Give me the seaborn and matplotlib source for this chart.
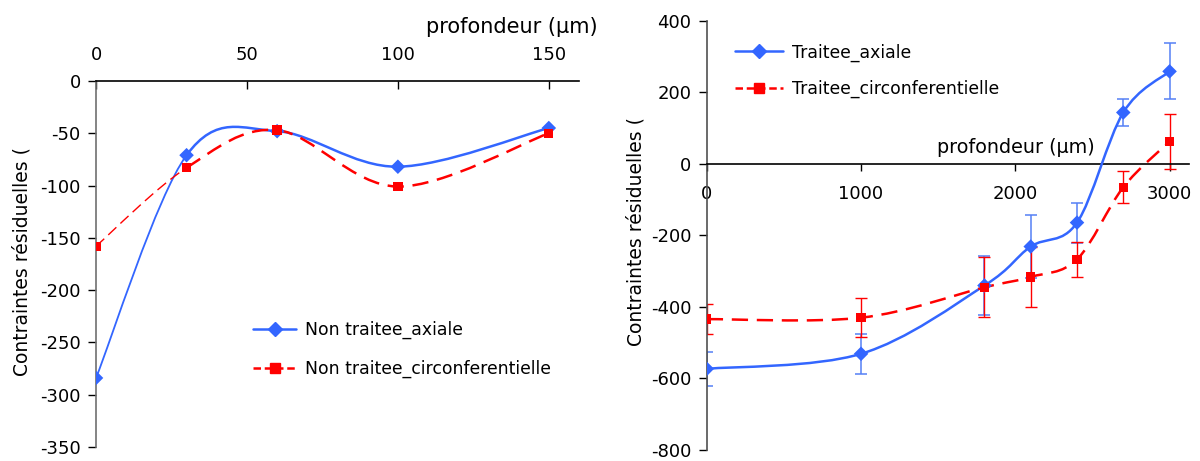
import numpy as np
import matplotlib
matplotlib.use("Agg")
import matplotlib.pyplot as plt
from matplotlib.path import Path
from matplotlib.patches import PathPatch
from matplotlib.lines import Line2D
import seaborn as sns
import pandas as pd

# ---------------- data ----------------
left_depth = [0, 30, 60, 100, 150]
left_axial = [-284, -71, -48, -82, -45]
left_circ = [-158, -83, -47, -101, -50]

right_depth = [0, 1000, 1800, 2100, 2400, 2700, 3000]
right_axial = [-573, -531, -340, -231, -164, 144, 259]
right_axial_err = [47, 56, 83, 87, 56, 39, 78]
right_circ = [-434, -430, -345, -316, -267, -65, 63]
right_circ_err = [42, 54, 84, 84, 48, 45, 76]

left_labels = ["Non traitee_axiale", "Non traitee_circonferentielle"]
right_labels = ["Traitee_axiale", "Traitee_circonferentielle"]
xlabel_text = "profondeur (\u00b5m)"
ylabel_text = "Contraintes r\u00e9siduelles ("

left_xticks = [0, 50, 100, 150]
left_yticks = [0, -50, -100, -150, -200, -250, -300, -350]
right_xticks = [0, 1000, 2000, 3000]
right_yticks = [400, 200, 0, -200, -400, -600, -800]

BLUE = "#3366FF"
BLUE_ERR = "#5580F5"
RED = "#FF0000"

sns.set_theme(style="white")
plt.rcParams["font.family"] = ["DejaVu Sans"]
plt.rcParams["axes.unicode_minus"] = False
plt.rcParams["text.color"] = "black"
plt.rcParams["xtick.color"] = "black"
plt.rcParams["ytick.color"] = "black"
FS = 13
LEG_FS = 12.4


def smooth_segments(x, y):
    """Bezier (Catmull-Rom style) segments through the data points."""
    pts = np.column_stack([x, y]).astype(float)
    n = len(pts)
    segs = []
    for i in range(n - 1):
        p0 = pts[i - 1] if i > 0 else pts[i]
        p1 = pts[i]
        p2 = pts[i + 1]
        p3 = pts[i + 2] if i + 2 < n else pts[i + 1]
        c1 = p1 + (p2 - p0) / 6.0
        c2 = p2 - (p3 - p1) / 6.0
        segs.append((p1, c1, c2, p2))
    return segs


def path_from(segs):
    verts = [segs[0][0]]
    codes = [Path.MOVETO]
    for (_, c1, c2, p2) in segs:
        verts += [c1, c2, p2]
        codes += [Path.CURVE4] * 3
    return Path(verts, codes)


def draw_curve(ax, segs, color, lw, ls):
    patch = PathPatch(path_from(segs), facecolor="none", edgecolor=color,
                      lw=lw, linestyle=ls, capstyle="butt", zorder=3)
    ax.add_patch(patch)


fig = plt.figure(figsize=(12, 4.61), dpi=100)
axL = fig.add_axes([0.08, 0.0304, 0.4025, 0.794])
axR = fig.add_axes([0.589, 0.0239, 0.4017, 0.9306])

DASH = (0, (6.5, 3.5))

# ---------------- left panel ----------------
segA = smooth_segments(left_depth, left_axial)
segC = smooth_segments(left_depth, left_circ)
draw_curve(axL, segA[:1], BLUE, 1.3, "-")
draw_curve(axL, segA[1:], BLUE, 1.8, "-")
draw_curve(axL, segC[:1], RED, 1.0, (0, (8, 4)))
draw_curve(axL, segC[1:], RED, 1.8, DASH)

dfL = pd.DataFrame({"x": left_depth, "a": left_axial, "c": left_circ})
sns.scatterplot(data=dfL, x="x", y="a", marker="D", s=55, color=BLUE,
                edgecolor="none", ax=axL, zorder=4, legend=False)
sns.scatterplot(data=dfL, x="x", y="c", marker="s", s=45, color=RED,
                edgecolor="none", ax=axL, zorder=4, legend=False)

axL.set_xlim(0, 160)
axL.set_ylim(-350, 0)
axL.set_xticks(left_xticks)
axL.set_yticks(left_yticks)
axL.xaxis.tick_top()
axL.tick_params(axis="x", direction="in", length=6, width=1, pad=12,
                labelsize=FS, colors="black", top=True, bottom=False)
axL.tick_params(axis="y", direction="out", length=6, width=1, pad=5,
                labelsize=FS, colors="black", left=True)
for s in ["right", "bottom"]:
    axL.spines[s].set_visible(False)
axL.spines["top"].set_color("black")
axL.spines["top"].set_linewidth(1.2)
axL.spines["left"].set_color("#707070")
axL.spines["left"].set_linewidth(1.2)
axL.set_xlabel("")
axL.set_ylabel("")
axL.text(1.039, 1.1475, xlabel_text, transform=axL.transAxes, ha="right",
         va="center", fontsize=15)

hL = [Line2D([], [], color=BLUE, lw=1.8, marker="D", ms=7),
      Line2D([], [], color=RED, lw=1.8, ls=(0, (3, 1.5)), marker="s", ms=6.5)]
axL.legend(hL, left_labels, loc="center left", bbox_to_anchor=(0.325, 0.266),
           frameon=False, fontsize=LEG_FS, handlelength=2.5, handletextpad=0.5,
           labelspacing=1.2, borderpad=0, borderaxespad=0)

# ---------------- right panel ----------------
axR.errorbar(right_depth, right_axial, yerr=right_axial_err, fmt="none",
             ecolor=BLUE_ERR, elinewidth=1.1, capsize=4, capthick=1.1, zorder=2)
axR.errorbar(right_depth, right_circ, yerr=right_circ_err, fmt="none",
             ecolor=RED, elinewidth=1.0, capsize=4, capthick=1.0, zorder=2)

draw_curve(axR, smooth_segments(right_depth, right_axial), BLUE, 1.8, "-")
draw_curve(axR, smooth_segments(right_depth, right_circ), RED, 1.8, DASH)

dfR = pd.DataFrame({"x": right_depth, "a": right_axial, "c": right_circ})
sns.scatterplot(data=dfR, x="x", y="a", marker="D", s=55, color=BLUE,
                edgecolor="none", ax=axR, zorder=4, legend=False)
sns.scatterplot(data=dfR, x="x", y="c", marker="s", s=45, color=RED,
                edgecolor="none", ax=axR, zorder=4, legend=False)

axR.set_xlim(0, 3125)
axR.set_ylim(-800, 400)
axR.set_xticks(right_xticks)
axR.set_yticks(right_yticks)
axR.spines["bottom"].set_position(("data", 0))
for s in ["right", "top"]:
    axR.spines[s].set_visible(False)
axR.spines["bottom"].set_color("black")
axR.spines["bottom"].set_linewidth(1.2)
axR.spines["left"].set_color("#505050")
axR.spines["left"].set_linewidth(1.2)
axR.tick_params(axis="x", direction="out", length=5, width=1, pad=10,
                labelsize=FS, colors="black", bottom=True)
axR.tick_params(axis="y", direction="out", length=6, width=1, pad=5,
                labelsize=FS, colors="black", left=True)
axR.set_xlabel("")
axR.set_ylabel("")
axR.text(0.805, 0.705, xlabel_text, transform=axR.transAxes, ha="right",
         va="center", fontsize=13.8)

hR = [Line2D([], [], color=BLUE, lw=1.8, marker="D", ms=7),
      Line2D([], [], color=RED, lw=1.8, ls=(0, (3, 1.5)), marker="s", ms=6.5)]
axR.legend(hR, right_labels, loc="center left", bbox_to_anchor=(0.058, 0.884),
           frameon=False, fontsize=LEG_FS, handlelength=2.8, handletextpad=0.55,
           labelspacing=1.05, borderpad=0, borderaxespad=0)

# y labels (clipped in the original)
fig.text(22 / 1200, 1 - 262 / 461, ylabel_text, rotation=90, ha="center",
         va="center", fontsize=13.5)
fig.text(636 / 1200, 1 - 231 / 461, ylabel_text, rotation=90, ha="center",
         va="center", fontsize=13.5)

fig.savefig("out.png", dpi=100)
